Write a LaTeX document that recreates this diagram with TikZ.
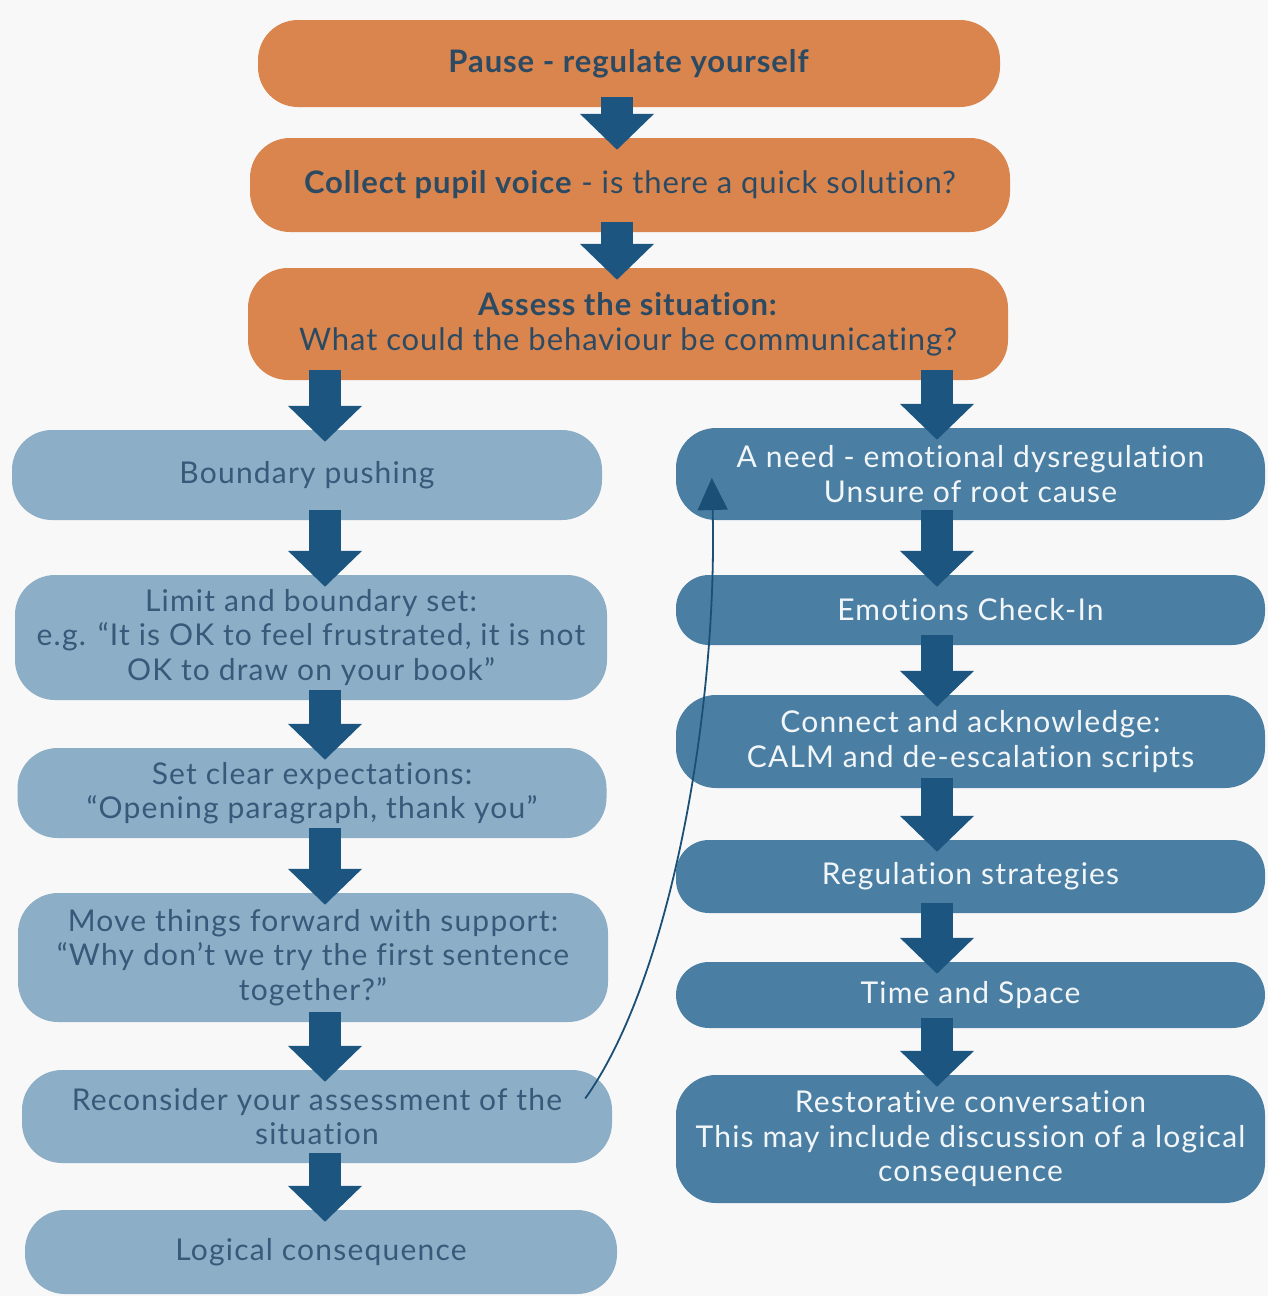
\documentclass[tikz,border=0pt]{standalone}
\usepackage{fontspec}
\setmainfont{Lato}[Ligatures={TeX,NoCommon}]
\newfontfamily\wideo{Lato}[LetterSpace=3,Ligatures={TeX,NoCommon}]
\newfontfamily\wideb{Lato}[LetterSpace=4,Ligatures={TeX,NoCommon}]
\usetikzlibrary{arrows.meta,calc}
\definecolor{bgc}{HTML}{F8F8F8}
\definecolor{orangec}{HTML}{D9854D}
\definecolor{lightb}{HTML}{8CAEC6}
\definecolor{midb}{HTML}{4A7FA3}
\definecolor{arrowc}{HTML}{1B5580}
\definecolor{navytxt}{HTML}{2D4A63}
\definecolor{ltxt}{HTML}{38597A}
\definecolor{rtxt}{HTML}{F2F6F9}
\definecolor{curvec}{HTML}{1B4F75}
\newcommand{\blkarrow}[3]{\draw[blk] ($(#1.south -| #3)+(0,-10)$) -- ($(#2.north -| #3)+(0,12)$);}
\begin{document}
\begin{tikzpicture}[x=1pt,y=-1pt,
  box/.style={rectangle, rounded corners=40pt, inner sep=0pt, align=center},
  obox/.style={box, fill=orangec, text=navytxt, font=\wideo\fontsize{31}{35}\selectfont},
  lbox/.style={box, fill=lightb, text=ltxt, font=\wideb\fontsize{30}{34.5}\selectfont},
  rbox/.style={box, fill=midb, text=rtxt, font=\wideb\fontsize{30}{34.5}\selectfont},
  small/.style={rounded corners=33pt},
  blk/.style={draw=arrowc, line width=32pt, -{Triangle[width=72pt,length=36pt]}},
  curvearrow/.style={draw=curvec, line width=1.8pt, -{Triangle[width=30pt,length=32pt]}}]
\fill[bgc] (0,0) rectangle (1268,1296);
\useasboundingbox (0,0) rectangle (1268,1296);
\coordinate (ac) at (617,0);
\coordinate (al) at (325,0);
\coordinate (ar) at (937,0);
% top column
\node[obox, minimum width=742pt, minimum height=87pt] (pause) at (629,63.5) {\textbf{Pause - regulate yourself}};
\node[obox, minimum width=760pt, minimum height=94pt] (collect) at (630,185) {\textbf{Collect pupil voice} - is there a quick solution?};
\node[obox, minimum width=760pt, minimum height=112pt] (assess) at (628,324) {\textbf{Assess the situation:}\\What could the behaviour be communicating?};
% left column
\node[lbox, minimum width=590pt, minimum height=90pt] (bp) at (307,475) {Boundary pushing};
\node[lbox, minimum width=592pt, minimum height=125pt] (limit) at (311,637.5) {Limit and boundary set:\\e.g. “It is OK to feel frustrated, it is not\\OK to draw on your book”};
\node[lbox, minimum width=589pt, minimum height=90pt] (clear) at (312,793) {Set clear expectations:\\“Opening paragraph, thank you”};
\node[lbox, minimum width=590pt, minimum height=129pt] (move) at (313,957.5) {Move things forward with support:\\“Why don’t we try the first sentence\\together?”};
\node[lbox, minimum width=590pt, minimum height=93pt] (recon) at (317,1116.5) {Reconsider your assessment of the\\situation};
\node[lbox, minimum width=592pt, minimum height=84pt] (logical) at (321,1252) {Logical consequence};
% right column
\node[rbox, minimum width=589pt, minimum height=92pt] (need) at (970.5,474) {A need - emotional dysregulation\\Unsure of root cause};
\node[rbox, small, minimum width=589pt, minimum height=70pt] (emo) at (970.5,610) {Emotions Check-In};
\node[rbox, minimum width=589pt, minimum height=93pt] (connect) at (970.5,741.5) {Connect and acknowledge:\\CALM and de-escalation scripts};
\node[rbox, small, minimum width=589pt, minimum height=73pt] (reg) at (970.5,876.5) {Regulation strategies};
\node[rbox, small, minimum width=589pt, minimum height=66pt] (time) at (970.5,995) {Time and Space};
\node[rbox, minimum width=589pt, minimum height=128pt] (rest) at (970.5,1139) {Restorative conversation\\This may include discussion of a logical\\consequence};
% block arrows
\blkarrow{pause}{collect}{ac}
\blkarrow{collect}{assess}{ac}
\blkarrow{assess}{bp}{al}
\blkarrow{assess}{need}{ar}
\blkarrow{bp}{limit}{al}
\blkarrow{limit}{clear}{al}
\blkarrow{clear}{move}{al}
\blkarrow{move}{recon}{al}
\blkarrow{recon}{logical}{al}
\blkarrow{need}{emo}{ar}
\blkarrow{emo}{connect}{ar}
\blkarrow{connect}{reg}{ar}
\blkarrow{reg}{time}{ar}
\blkarrow{time}{rest}{ar}
% feedback curve
\draw[curvearrow] ($(recon.east)+(-27,-18)$) .. controls ($(recon.east)+(60,-140)$) and ($(need.west)+(42,230)$) .. ($(need.west)+(36,4)$);
\end{tikzpicture}
\end{document}
